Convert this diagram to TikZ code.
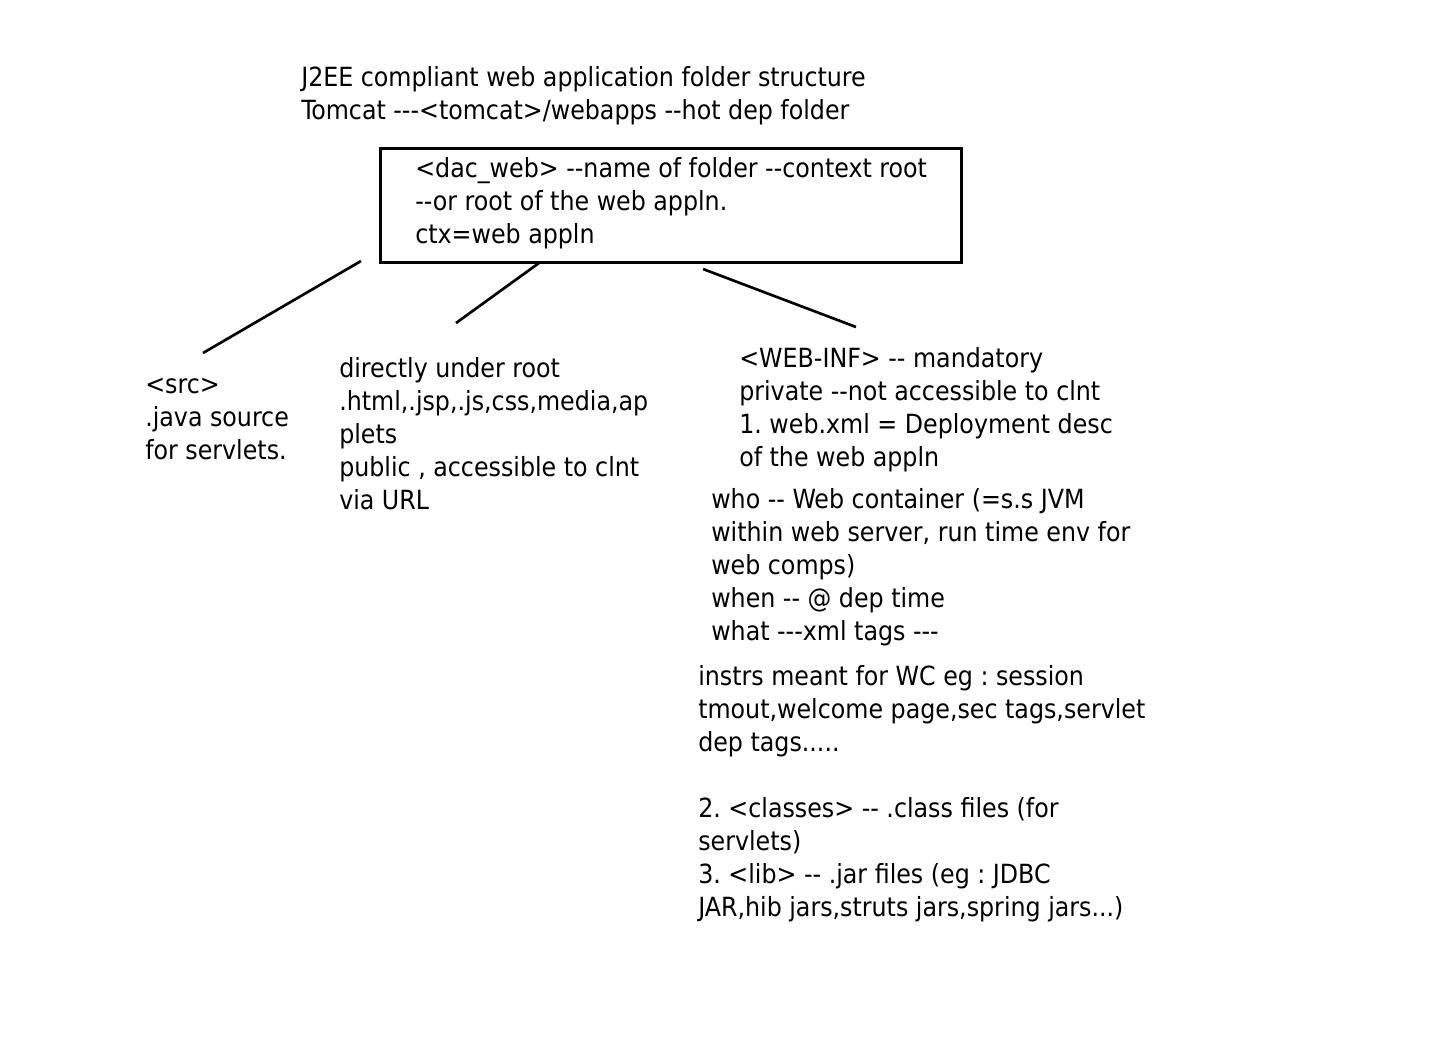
\documentclass[tikz,border=0pt]{standalone}
\usepackage{fontspec}
\setmainfont{DejaVu Sans Condensed}
\usepackage{tikz}
\frenchspacing

\begin{document}
\begin{tikzpicture}[x=0.75pt,y=0.75pt,yscale=-1,xscale=1,
  txt/.style={anchor=base west,inner sep=0pt,align=left,font=\fontsize{19.8}{24.75}\selectfont},
  folder/.style={draw,line width=2.25pt,anchor=north west,inner sep=0pt,minimum width=581*0.75pt,minimum height=114*0.75pt},
  branch/.style={line width=2pt}]
%set diagram left start at 0, and has height of 1054
\useasboundingbox (0,0) rectangle (1434,1054);

%Shape: Rectangle [id:root]
\node[folder] (root) at (379,147) {};

% Text Node (placed at the baseline of its last line)
\node[txt] (title) at (301,119.5) {J2EE compliant web application folder structure\\Tomcat -{}-{}-<tomcat>/webapps -{}-hot dep folder};
% Text Node
\node[txt] (roottxt) at (415,243.5) {<dac\_web> -{}-name of folder -{}-context root\\-{}-or root of the web appln.\\ctx=web appln};
% Text Node
\node[txt] (src) at (145,459.5) {<src>\\.java source\\for servlets.};
% Text Node
\node[txt] (pub) at (339,509.5) {directly under root\\.html,.jsp,.js,css,media,ap\\plets\\public , accessible to clnt\\via URL};
% Text Node
\node[txt] (webinf) at (739,466.5) {<WEB-INF> -{}- mandatory\\private -{}-not accessible to clnt\\1. web.xml = Deployment desc\\of the web appln};
% Text Node
\node[txt] (who) at (711,640.5) {who -{}- Web container (=s.s JVM\\within web server, run time env for\\web comps)\\when -{}- @ dep time\\what -{}-{}-xml tags -{}-{}-};
% Text Node
\node[txt] (instrs) at (698,751.5) {instrs meant for WC eg : session\\tmout,welcome page,sec tags,servlet\\dep tags.....};
% Text Node
\node[txt] (classes) at (698,916.5) {2. <classes> -{}- .class files (for\\servlets)\\3. <lib> -{}- .jar files (eg : JDBC\\JAR,hib jars,struts jars,spring jars...)};

%Straight Lines
\coordinate (srcin) at (361,261);
\coordinate (srctop) at (203,353);
\draw[branch] (srcin) -- (srctop);
%Straight Lines
\coordinate (pubin) at (539,263);
\coordinate (pubtop) at (456,323);
\draw[branch] (pubin) -- (pubtop);
%Straight Lines
\coordinate (webin) at (703,269);
\coordinate (webtop) at (856,327);
\draw[branch] (webin) -- (webtop);
\end{tikzpicture}
\end{document}
